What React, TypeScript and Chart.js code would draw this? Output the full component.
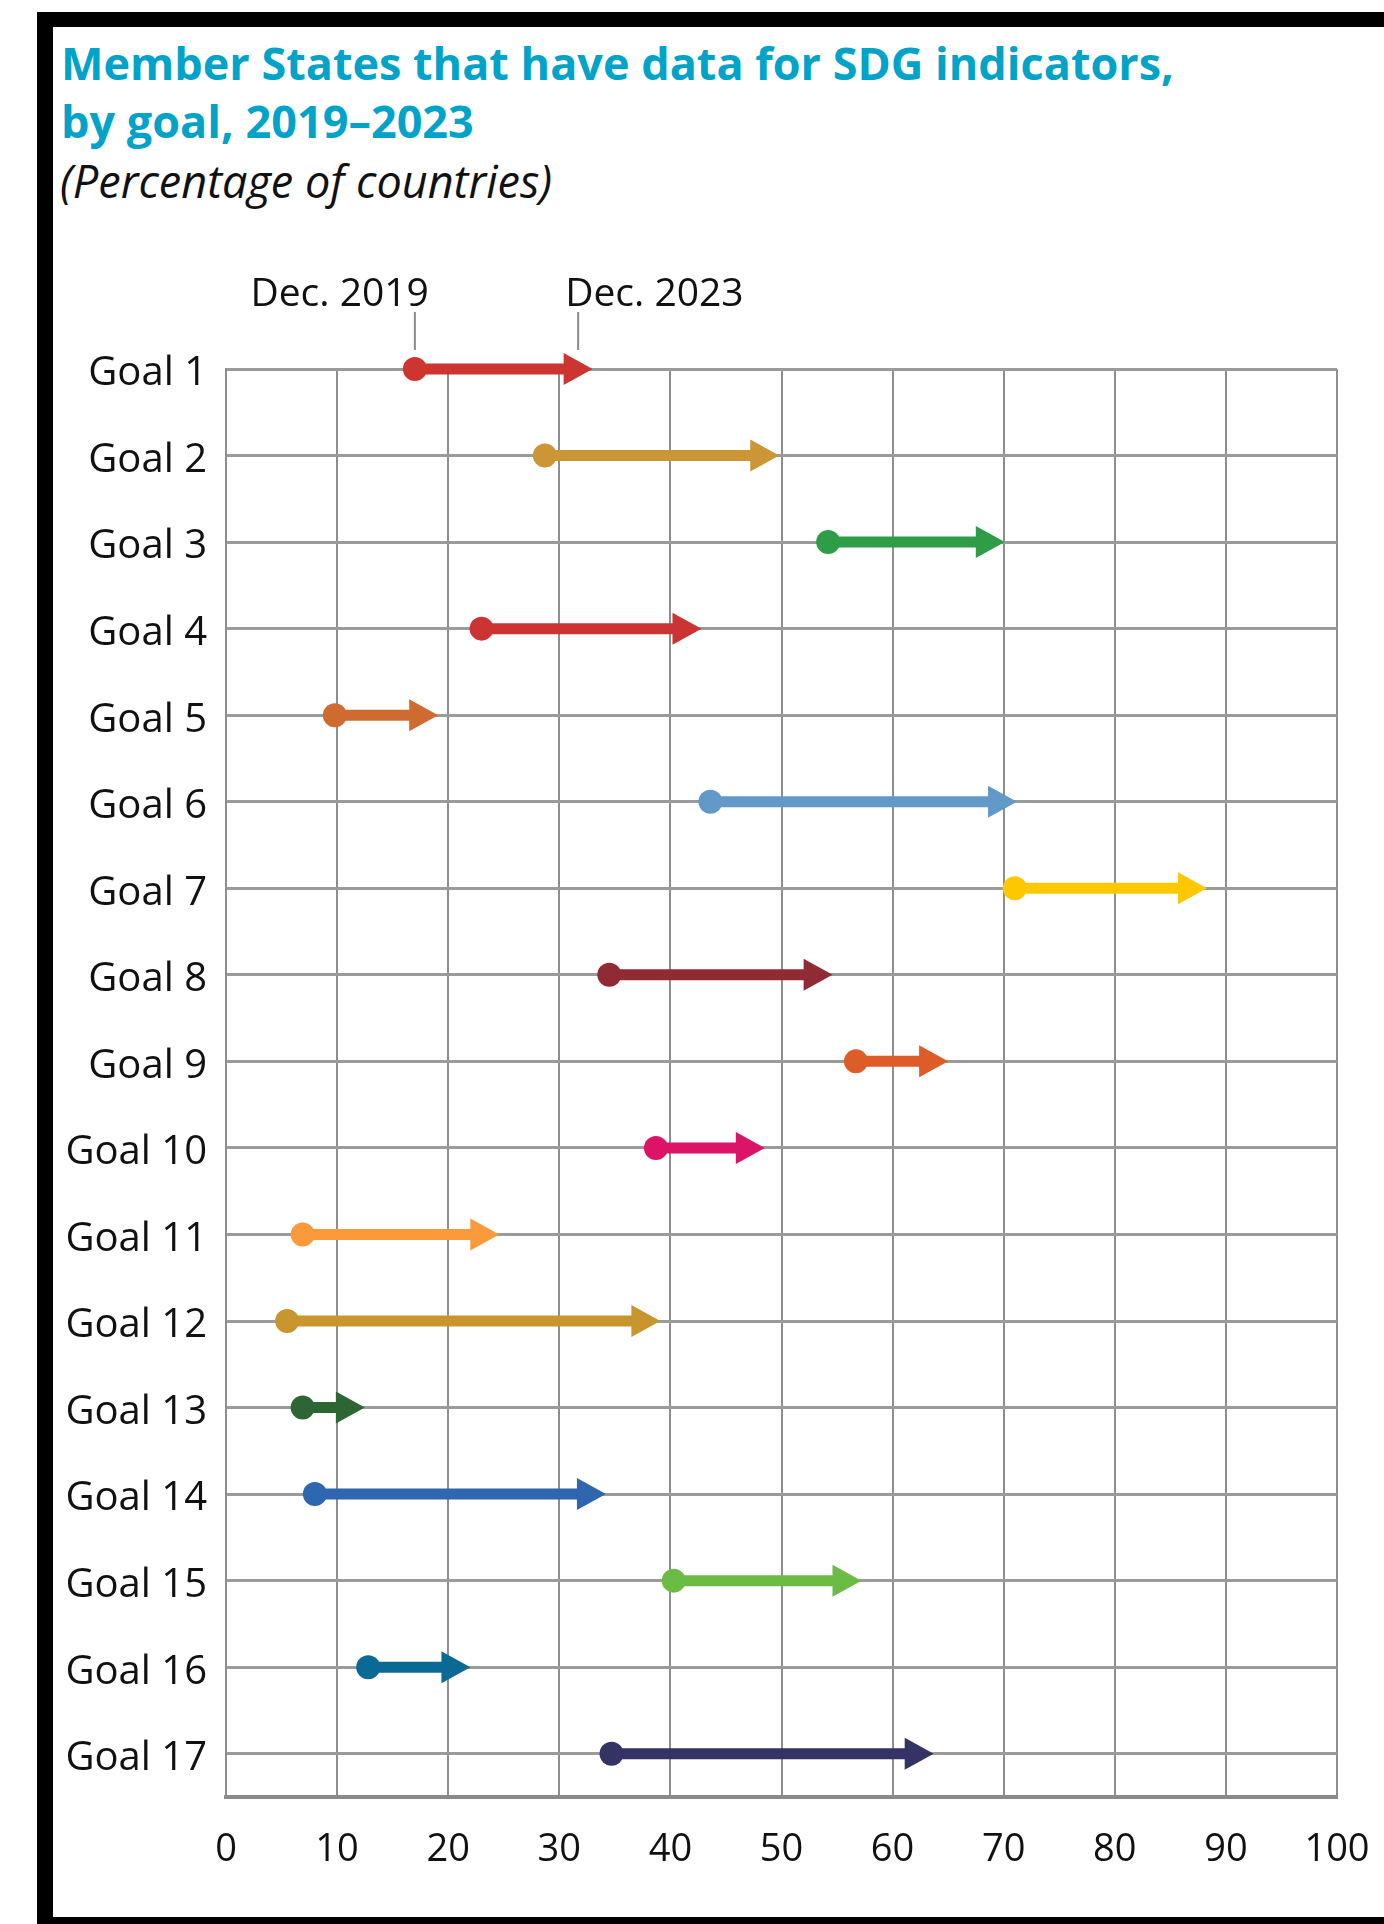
import React, { useEffect, useRef } from "react";
import { Chart, registerables } from "chart.js";

Chart.register(...registerables);

const titleLines = ["Member States that have data for SDG indicators,", "by goal, 2019\u20132023"];
const subtitle = "(Percentage of countries)";
const markerLabels = ["Dec. 2019", "Dec. 2023"];

const goalLabels = [
  "Goal 1", "Goal 2", "Goal 3", "Goal 4", "Goal 5", "Goal 6", "Goal 7", "Goal 8", "Goal 9",
  "Goal 10", "Goal 11", "Goal 12", "Goal 13", "Goal 14", "Goal 15", "Goal 16", "Goal 17",
];
const dec2019 = [17.0, 28.7, 54.2, 23.0, 9.8, 43.6, 71.0, 34.5, 56.7, 38.7, 6.9, 5.5, 6.9, 8.0, 40.3, 12.8, 34.7];
const dec2023 = [33.0, 49.8, 70.1, 42.8, 19.1, 71.2, 88.3, 54.6, 65.0, 48.5, 24.6, 39.1, 12.5, 34.2, 57.2, 22.0, 63.7];
const goalColors = [
  "#cd3530", "#cc9535", "#2f9c47", "#cc3333", "#cf6a30", "#6399c8", "#fdc800", "#902b33", "#dd5c27",
  "#dd1367", "#fa9a3a", "#c8952f", "#2e6633", "#2f66b0", "#6cbb45", "#0b6995", "#333366",
];
const xMin = 0;
const xMax = 100;
const xStep = 10;

const FONT = '"Open Sans", "Noto Sans", sans-serif';
const HEAD_LEN = 29;
const HEAD_HALF = 16;
const SHAFT_W = 11;

const arrowPlugin = {
  id: "arrows",
  beforeDatasetsDraw(chart: any) {
    const { ctx } = chart;
    const xs = chart.scales.x;
    const ys = chart.scales.y;
    ctx.save();
    for (let i = 0; i < goalLabels.length; i++) {
      const y = ys.getPixelForValue(i + 1);
      const x0 = xs.getPixelForValue(dec2019[i]);
      const x1 = xs.getPixelForValue(dec2023[i]);
      ctx.strokeStyle = goalColors[i];
      ctx.fillStyle = goalColors[i];
      ctx.lineWidth = SHAFT_W;
      ctx.lineCap = "butt";
      ctx.beginPath();
      ctx.moveTo(x0, y);
      ctx.lineTo(x1 - HEAD_LEN + 1, y);
      ctx.stroke();
      ctx.beginPath();
      ctx.moveTo(x1, y);
      ctx.lineTo(x1 - HEAD_LEN, y - HEAD_HALF);
      ctx.lineTo(x1 - HEAD_LEN, y + HEAD_HALF);
      ctx.closePath();
      ctx.fill();
    }
    // Dec. 2019 / Dec. 2023 markers on Goal 1
    const gy = ys.getPixelForValue(1);
    const m0 = xs.getPixelForValue(dec2019[0]);
    const m1 = xs.getPixelForValue(dec2023[0]) - HEAD_LEN / 2;
    ctx.strokeStyle = "#8a8a8a";
    ctx.lineWidth = 2;
    ctx.beginPath();
    ctx.moveTo(m0, gy - 57);
    ctx.lineTo(m0, gy - 19);
    ctx.moveTo(m1, gy - 57);
    ctx.lineTo(m1, gy - 19);
    ctx.stroke();
    ctx.fillStyle = "#111111";
    ctx.font = `39px ${FONT}`;
    ctx.textBaseline = "alphabetic";
    ctx.textAlign = "right";
    ctx.fillText(markerLabels[0], m0 + 14, gy - 63);
    ctx.textAlign = "left";
    ctx.fillText(markerLabels[1], m1 - 13, gy - 63);
    ctx.restore();
  },
};

export default function App() {
  const canvasRef = useRef<HTMLCanvasElement | null>(null);

  useEffect(() => {
    const canvas = canvasRef.current;
    if (!canvas) return;
    const chart = new Chart(canvas, {
      type: "scatter",
      data: {
        datasets: [
          {
            label: "Dec. 2019",
            data: dec2019.map((v, i) => ({ x: v, y: i + 1 })),
            pointRadius: 12,
            pointHoverRadius: 12,
            pointBackgroundColor: goalColors,
            pointBorderWidth: 0,
            borderWidth: 0,
            showLine: false,
            clip: false,
          } as any,
        ],
      },
      options: {
        animation: false,
        responsive: false,
        devicePixelRatio: 1,
        layout: { padding: { top: 169, right: 47, bottom: 0, left: 0 } },
        plugins: {
          legend: { display: false },
          tooltip: { enabled: false },
          title: { display: false },
        },
        scales: {
          x: {
            type: "linear",
            min: xMin,
            max: xMax,
            ticks: {
              stepSize: xStep,
              padding: 30,
              color: "#111111",
              font: { family: FONT, size: 38 },
              maxRotation: 0,
              autoSkip: false,
            },
            grid: { color: "#8e8e8e", lineWidth: 2, drawTicks: false },
            border: { display: true, color: "#8a8a8a", width: 4 },
            afterFit: (s: any) => {
              s.height = 120;
              s.paddingLeft = 0;
              s.paddingRight = 0;
            },
          },
          y: {
            type: "linear",
            reverse: true,
            min: 1,
            max: 17.5,
            afterBuildTicks: (s: any) => {
              s.ticks = goalLabels.map((_, i) => ({ value: i + 1 }));
            },
            ticks: {
              padding: 19,
              labelOffset: 5,
              color: "#111111",
              font: { family: FONT, size: 40 },
              callback: (v: any) => goalLabels[Number(v) - 1] ?? "",
              autoSkip: false,
            },
            grid: { color: "#9b9b9b", lineWidth: 3, drawTicks: false },
            border: { display: true, color: "#8e8e8e", width: 2 },
            afterFit: (s: any) => {
              s.width = 173;
              s.paddingTop = 0;
              s.paddingBottom = 0;
            },
          },
        },
      },
      plugins: [arrowPlugin],
    });
    return () => chart.destroy();
  }, []);

  return (
    <div
      style={{
        position: "absolute",
        left: 0,
        top: 0,
        width: 1384,
        height: 1924,
        overflow: "hidden",
        background: "#ffffff",
        fontFamily: FONT,
      }}
    >
      <div style={{ position: "absolute", left: 37, top: 12, width: 1347, height: 15, background: "#000" }} />
      <div style={{ position: "absolute", left: 37, top: 12, width: 16, height: 1912, background: "#000" }} />
      <div style={{ position: "absolute", left: 37, top: 1917, width: 1347, height: 7, background: "#000" }} />
      {titleLines.map((t, i) => (
        <div
          key={i}
          style={{
            position: "absolute",
            left: 61,
            top: 34 + i * 58,
            fontSize: 45,
            lineHeight: "58px",
            fontWeight: 700,
            color: "#02a3c9",
            whiteSpace: "nowrap",
          }}
        >
          {t}
        </div>
      ))}
      <div
        style={{
          position: "absolute",
          left: 60,
          top: 153,
          fontSize: 45,
          lineHeight: "56px",
          fontStyle: "italic",
          color: "#111111",
          whiteSpace: "nowrap",
        }}
      >
        {subtitle}
      </div>
      <canvas
        ref={canvasRef}
        width={1331}
        height={1717}
        style={{ position: "absolute", left: 53, top: 200, width: 1331, height: 1717, display: "block" }}
      />
    </div>
  );
}
